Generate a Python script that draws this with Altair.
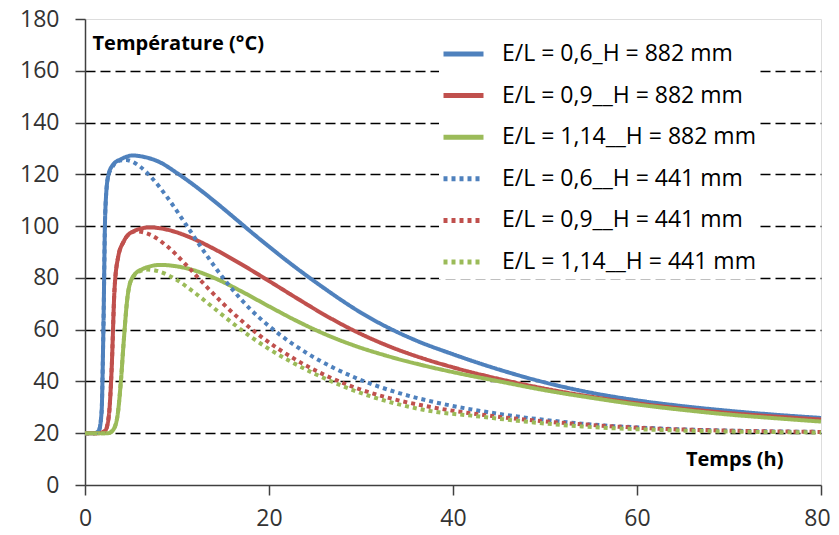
import altair as alt
import pandas as pd

labels = [
    "E/L = 0,6_H = 882 mm",
    "E/L = 0,9__H = 882 mm",
    "E/L = 1,14__H = 882 mm",
    "E/L = 0,6__H = 441 mm",
    "E/L = 0,9__H = 441 mm",
    "E/L = 1,14__H = 441 mm",
]
colors = ["#4f81bd", "#c0504d", "#9bbb59", "#4f81bd", "#c0504d", "#9bbb59"]

# E/L = 0,6  H = 882 mm
t_b882 = [0, 1.0, 1.5, 1.8, 2.0, 2.2, 2.5, 3, 4, 5.2, 6, 7, 8, 10, 12, 14, 16, 17.3, 18, 20, 22, 24, 26, 28, 30, 33, 36, 40, 45, 50, 55, 60, 65, 70, 75, 80]
v_b882 = [20, 20, 21, 28, 60, 105, 119, 123.5, 126, 127.3, 127.0, 126.2, 124.9, 120.5, 115.4, 109.8, 103.9, 100, 97.9, 92.1, 86.45, 81.1, 76.0, 71.1, 66.55, 60.7, 55.8, 50.5, 44.6, 39.6, 35.65, 32.7, 30.45, 28.65, 27.15, 25.9]
# E/L = 0,9  H = 882 mm
t_r882 = [0, 1.5, 2.2, 2.6, 2.9, 3.2, 3.6, 4.2, 5, 7, 8, 10, 12, 14, 17, 20, 23, 26, 29, 33, 37, 40, 45, 50, 55, 60, 65, 70, 75, 80]
v_r882 = [20, 20, 21, 27, 45, 75, 88, 94, 97.5, 99.5, 99.25, 97.55, 94.75, 91.25, 85.25, 78.8, 72.2, 65.8, 60.05, 53.65, 48.6, 45.45, 40.95, 37.2, 34.1, 31.55, 29.5, 27.8, 26.45, 25.3]
# E/L = 1,14  H = 882 mm
t_g882 = [0, 2.5, 3.0, 3.5, 3.9, 4.2, 4.6, 5.0, 6, 8.2, 10, 12, 14, 17, 20, 23, 26, 29, 33, 37, 40, 45, 50, 55, 60, 65, 70, 75, 80]
v_g882 = [20, 20, 21, 26, 40, 55, 72, 79, 83, 85, 84.45, 82.75, 80.05, 74.8, 69.0, 63.4, 58.4, 54.2, 49.7, 46.0, 43.6, 40.05, 36.6, 33.7, 31.1, 29.0, 27.2, 25.8, 24.5]
# E/L = 0,6  H = 441 mm
t_b441 = [0, 1.0, 1.5, 1.8, 2.0, 2.2, 2.5, 3, 3.8, 4.5, 5, 6, 7, 9, 11, 13, 15, 17, 19, 21, 24, 27, 30, 34, 38, 42, 47, 54, 62, 70, 80]
v_b441 = [20, 20, 21, 28, 60, 105, 119, 123, 125.3, 125.5, 125.1, 122.95, 119.65, 110.85, 100.45, 89.85, 80.05, 71.55, 64.45, 58.55, 51.2, 45.3, 40.55, 35.65, 32.0, 29.2, 26.45, 23.7, 21.9, 21.0, 20.5]
# E/L = 0,9  H = 441 mm
t_r441 = [0, 1.5, 2.2, 2.6, 2.9, 3.2, 3.6, 4.2, 5, 5.5, 7, 9, 11, 13, 15, 17, 19, 21, 24, 27, 30, 33, 37, 42, 47, 54, 62, 70, 80]
v_r441 = [20, 20, 21, 27, 45, 75, 88, 94, 97.4, 98, 96.8, 92.0, 85.0, 77.4, 70.1, 63.5, 57.7, 52.65, 46.2, 40.95, 36.8, 33.65, 30.5, 27.65, 25.55, 23.45, 21.8, 21.0, 20.5]
# E/L = 1,14  H = 441 mm
t_g441 = [0, 2.5, 3.0, 3.5, 3.9, 4.2, 4.6, 5.0, 6, 6.8, 8, 10, 12, 14, 16, 18, 20, 22, 25, 28, 31, 34, 38, 42, 47, 54, 62, 70, 80]
v_g441 = [20, 20, 21, 26, 40, 55, 72, 79, 82.6, 83.2, 82.55, 79.15, 74.05, 68.35, 62.65, 57.3, 52.55, 48.4, 42.9, 38.2, 34.3, 31.25, 28.3, 26.8, 24.8, 22.6, 21.3, 20.65, 20.3]

x_ticks = [0, 20, 40, 60, 80]
y_ticks = [0, 20, 40, 60, 80, 100, 120, 140, 160, 180]

series = [
    (labels[0], t_b882, v_b882),
    (labels[1], t_r882, v_r882),
    (labels[2], t_g882, v_g882),
    (labels[3], t_b441, v_b441),
    (labels[4], t_r441, v_r441),
    (labels[5], t_g441, v_g441),
]
rows = []
for name, ts, vs in series:
    for t, v in zip(ts, vs):
        rows.append({"serie": name, "t": t, "T": v})
df = pd.DataFrame(rows)

FONT = "Open Sans"
dash_solid = [1, 0]
dash_dot = [4, 4]


def make_legend():
    return alt.Legend(
        title=None,
        orient="none",
        legendX=354,
        legendY=18,
        symbolType="stroke",
        symbolSize=1600,
        symbolStrokeWidth=5,
        clipHeight=30,
        rowPadding=11.6,
        labelFont=FONT,
        labelFontSize=23,
        labelColor="#000000",
        labelOffset=16,
        labelLimit=400,
        fillColor="#ffffff",
        padding=2,
    )


chart = alt.Chart(df).mark_line(
    strokeWidth=4, interpolate="monotone", strokeCap="butt"
).encode(
    x=alt.X(
        "t:Q",
        scale=alt.Scale(domain=[0, 80], nice=False),
        axis=alt.Axis(
            values=x_ticks,
            title="Temps (h)",
            titleAngle=0,
            titleX=698,
            titleY=-26,
            titleAlign="right",
            titleBaseline="middle",
            titleFont=FONT,
            titleFontSize=20,
            titleFontWeight="bold",
            titleColor="#000000",
            grid=False,
            tickSize=10,
            tickColor="#404040",
            tickWidth=1.5,
            domainColor="#404040",
            domainWidth=1.5,
            labelFont=FONT,
            labelFontSize=23,
            labelColor="#333333",
            labelPadding=12,
            labelFlush=False,
            labelOffset={"condition": {"test": "datum.value >= 80", "value": -4}, "value": 0},
        ),
    ),
    y=alt.Y(
        "T:Q",
        scale=alt.Scale(domain=[0, 180], nice=False),
        axis=alt.Axis(
            values=y_ticks,
            title="Température (°C)",
            titleAngle=0,
            titleX=7,
            titleY=24,
            titleAlign="left",
            titleBaseline="middle",
            titleFont=FONT,
            titleFontSize=20,
            titleFontWeight="bold",
            titleColor="#000000",
            grid=True,
            gridColor="#000000",
            gridDash=[10, 5],
            gridWidth=1.3,
            gridOpacity={"condition": {"test": "datum.value >= 180 || datum.value <= 0", "value": 0}, "value": 1},
            tickSize=10,
            tickColor="#404040",
            tickWidth=1.5,
            domainColor="#404040",
            domainWidth=1.5,
            labelFont=FONT,
            labelFontSize=23,
            labelColor="#333333",
            labelPadding=16,
        ),
    ),
    color=alt.Color(
        "serie:N",
        scale=alt.Scale(domain=labels, range=colors),
        sort=labels,
        legend=make_legend(),
    ),
    strokeDash=alt.StrokeDash(
        "serie:N",
        scale=alt.Scale(domain=labels, range=[dash_solid, dash_solid, dash_solid, dash_dot, dash_dot, dash_dot]),
        sort=labels,
        legend=make_legend(),
    ),
    detail="serie:N",
    order=alt.Order("t:Q"),
).properties(
    width=736,
    height=466,
    autosize=alt.AutoSizeParams(type="none"),
    padding={"left": 77, "top": 11, "right": 10, "bottom": 50},
).configure_view(
    stroke="#6a6a6a",
    strokeWidth=1.5,
).configure(background="#ffffff")

chart.save("out.html", embed_options={"renderer": "svg", "actions": False})
